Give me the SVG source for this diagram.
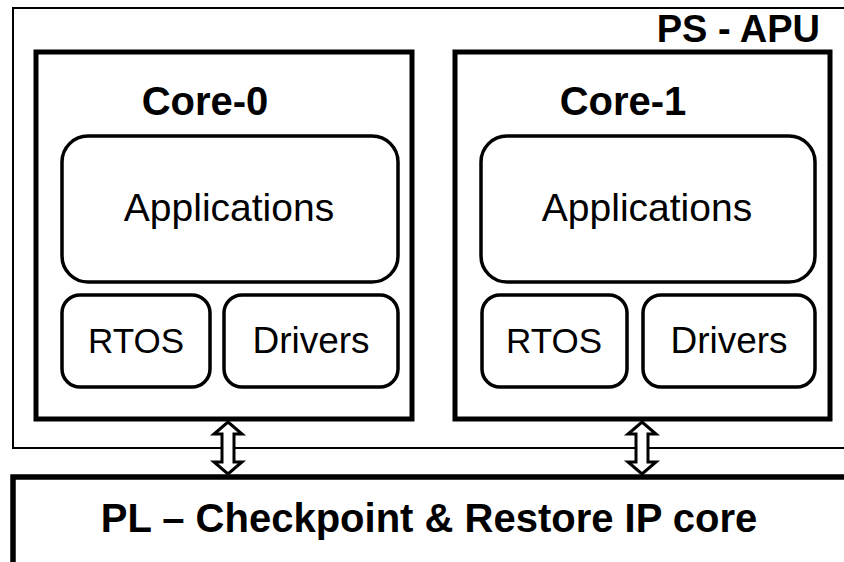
<svg xmlns="http://www.w3.org/2000/svg" width="844" height="562" viewBox="0 0 844 562">
  <style>
    .frame { fill: #fff; stroke: #000; stroke-width: 2; }
    .core { fill: #fff; stroke: #000; stroke-width: 5; }
    .pl { fill: #fff; stroke: #000; stroke-width: 5.5; }
    .blk { fill: #fff; stroke: #000; stroke-width: 3.5; }
    .arrow { fill: #fff; stroke: #000; stroke-width: 3; stroke-linejoin: miter; }
    .title { font-family: "Liberation Sans", Arial, sans-serif; font-weight: bold; fill: #000; }
    .lbl { font-family: "Liberation Sans", Arial, sans-serif; fill: #000; text-anchor: middle; }
  </style>

  <!-- Processing system: application processing unit -->
  <g id="ps-apu">
    <rect class="frame" x="13" y="8" width="850" height="440"/>
    <text class="title" x="820" y="42" font-size="38" text-anchor="end">PS - APU</text>
  </g>

  <!-- Core 0 -->
  <g id="core-0">
    <rect class="core" x="36" y="52" width="376" height="367"/>
    <text class="title" x="205" y="115" font-size="40" text-anchor="middle">Core-0</text>
  </g>
  <g id="core-0-applications">
    <rect class="blk" x="62" y="136" width="336" height="146" rx="26"/>
    <text class="lbl" x="229" y="221" font-size="39">Applications</text>
  </g>
  <g id="core-0-rtos">
    <rect class="blk" x="62" y="295" width="148" height="92" rx="18"/>
    <text class="lbl" x="136" y="353" font-size="35">RTOS</text>
  </g>
  <g id="core-0-drivers">
    <rect class="blk" x="224" y="295" width="174" height="92" rx="18"/>
    <text class="lbl" x="311" y="353" font-size="37">Drivers</text>
  </g>

  <!-- Core 1 -->
  <g id="core-1">
    <rect class="core" x="455" y="52" width="375" height="367"/>
    <text class="title" x="623" y="115" font-size="40" text-anchor="middle">Core-1</text>
  </g>
  <g id="core-1-applications">
    <rect class="blk" x="481" y="136" width="334" height="146" rx="26"/>
    <text class="lbl" x="647" y="221" font-size="39">Applications</text>
  </g>
  <g id="core-1-rtos">
    <rect class="blk" x="482" y="295" width="145" height="92" rx="18"/>
    <text class="lbl" x="554" y="353" font-size="35">RTOS</text>
  </g>
  <g id="core-1-drivers">
    <rect class="blk" x="643" y="295" width="172" height="92" rx="18"/>
    <text class="lbl" x="729" y="353" font-size="37">Drivers</text>
  </g>

  <!-- Programmable logic: checkpoint and restore IP -->
  <g id="pl-ip-core">
    <rect class="pl" x="13" y="477" width="850" height="100"/>
    <text class="title" x="429" y="532" font-size="40" text-anchor="middle">PL – Checkpoint &amp; Restore IP core</text>
  </g>

  <!-- Bidirectional links between cores and the PL -->
  <g id="connectors">
    <polygon class="arrow" points="228,422 242,434 234,434 234,462 242,462 228,474 214,462 222,462 222,434 214,434"/>
    <polygon class="arrow" points="642,422 656,434 648,434 648,462 656,462 642,474 628,462 636,462 636,434 628,434"/>
  </g>
</svg>
